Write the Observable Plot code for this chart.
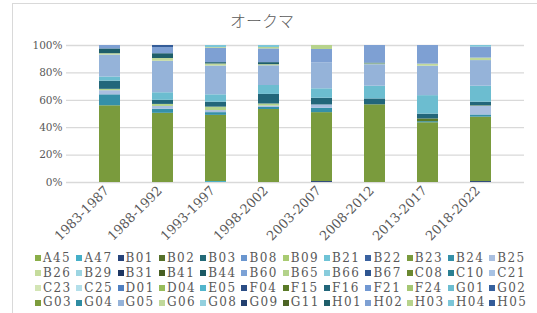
<!DOCTYPE html>
<html><head><meta charset="utf-8">
<script src="https://cdn.jsdelivr.net/npm/d3@7"></script>
<script src="https://cdn.jsdelivr.net/npm/@observablehq/plot@0.6"></script>
<style>
body{margin:0;background:#fff;}
#wrap{position:relative;width:537px;height:313px;overflow:hidden;font-family:"DejaVu Serif",serif;color:#595959;}
#frame{position:absolute;left:12px;top:3px;width:600px;height:400px;border:1px solid #d9d9d9;}
#title{position:absolute;left:212px;width:100px;top:10px;text-align:center;font-family:"Noto Sans CJK JP",sans-serif;font-weight:300;font-size:16px;line-height:20px;color:#595959;}
#chart{position:absolute;left:0;top:0;}
#legend{position:absolute;left:35px;top:251px;display:grid;grid-template-columns:repeat(12,41.3px);grid-auto-rows:14.8px;}
.it{display:flex;align-items:center;font-size:12px;letter-spacing:1.4px;white-space:nowrap;line-height:14.8px;}
.sw{width:6px;height:6px;margin-right:2px;flex:none;}
</style></head>
<body>
<div id="wrap">
<div id="frame"></div>
<div id="title">オークマ</div>
<div id="chart"></div>
<div id="legend"></div>
</div>
<script>
const periods = ["1983-1987","1988-1992","1993-1997","1998-2002","2003-2007","2008-2012","2013-2017","2018-2022"];
const categories = ["A45","A47","B01","B02","B03","B08","B09","B21","B22","B23","B24","B25",
"B26","B29","B31","B41","B44","B60","B65","B66","B67","C08","C10","C21",
"C23","C25","D01","D04","E05","F04","F15","F16","F21","F24","G01","G02",
"G03","G04","G05","G06","G08","G09","G11","H01","H02","H03","H04","H05"];
const colors = ["#8aae48","#45afc8","#27437a","#56702a","#236a78","#6a96cf","#a9cb72","#6fc3d6","#3a62a0","#7a9b3d","#3590a8","#a9bfe0",
"#c5dc9c","#9cd5e2","#1e3662","#475e22","#1c5964","#7ca2d6","#b3d28a","#88ccdc","#2e5590","#6a8830","#2a7f92","#a7c2e4",
"#d3e5b5","#b3dfea","#4f7fc0","#98bc5a","#52b5cc","#2b4d85","#5a7a28","#22667a","#7198d2","#a5c773","#6cbdd0","#35609e",
"#7c9c3c","#2e8ca2","#95b3d9","#c0d89a","#94d0de","#23406f","#4c6424","#1e5e6a","#7ea0d3","#b7d38c","#7cc6d8","#345c98"];

// share (%) per period, for the categories that appear in the bars
const A47 = [0,0,0.7,0,0,0,0,0];
const B01 = [0,0,0,0,0.7,0,0,0.7];
const B23 = [56,50.5,48.3,53.3,50.3,56.7,43.6,47];
const B24 = [8,3,2,1.5,3.2,0,0.8,1.6];
const B25 = [3,2,1.5,1,2.4,0,0,6.4];
const B65 = [1,1.5,2.5,1.5,0,0,0,0];
const F15 = [0,0,0,0,0,0,2,0.3];
const F16 = [6,3,3.6,7,4.9,4.3,3.5,2.6];
const G01 = [3,5.5,5.4,6.5,6.9,9.3,13.5,11.7];
const G05 = [16,23,21,14.4,19,15.7,21.5,18.7];
const G06 = [1,2,1.5,0.8,0,0.6,1.5,1.8];
const H01 = [3.5,3.5,1,1.5,0,0.6,0,0];
const H02 = [2.5,4.5,10.5,10,9.7,12.8,13.6,8];
const H03 = [0,0,0.5,1,2.9,0,0,0];
const H04 = [0,0,1.5,1.5,0,0,0,1.2];
const H05 = [0,1.5,0,0,0,0,0,0];
const yTicks = [0,20,40,60,80,100];

const series = {A47,B01,B23,B24,B25,B65,F15,F16,G01,G05,G06,H01,H02,H03,H04,H05};
const data = [];
for (const cat of categories) {
  const vals = series[cat];
  if (!vals) continue;
  vals.forEach((v, i) => { if (v > 0) data.push({period: periods[i], cat, value: v}); });
}

const chart = Plot.plot({
  width: 537, height: 245,
  marginLeft: 66, marginRight: 13, marginTop: 45, marginBottom: 63,
  style: {fontFamily: "DejaVu Serif, serif", color: "#595959", background: "transparent"},
  x: {domain: periods, padding: 0.6, label: null},
  y: {domain: [0, 100], label: null},
  color: {domain: categories, range: colors},
  marks: [
    Plot.gridY(yTicks, {stroke: "#d9d9d9", strokeOpacity: 1, strokeWidth: 1.3}),
    Plot.axisY(yTicks, {tickSize: 0, tickPadding: 4, tickFormat: d => d + "%", fontSize: 10.5, label: null}),
    Plot.axisX({tickSize: 0, tickRotate: -45, tickPadding: 6, fontSize: 13, dx: -3, label: null}),
    Plot.barY(data, {x: "period", y: "value", fill: "cat", order: categories})
  ]
});
document.getElementById("chart").appendChild(chart);

const lg = document.getElementById("legend");
categories.forEach((c, i) => {
  const it = document.createElement("div");
  it.className = "it";
  it.innerHTML = `<span class="sw" style="background:${colors[i]}"></span>${c}`;
  lg.appendChild(it);
});
</script>
</body></html>
